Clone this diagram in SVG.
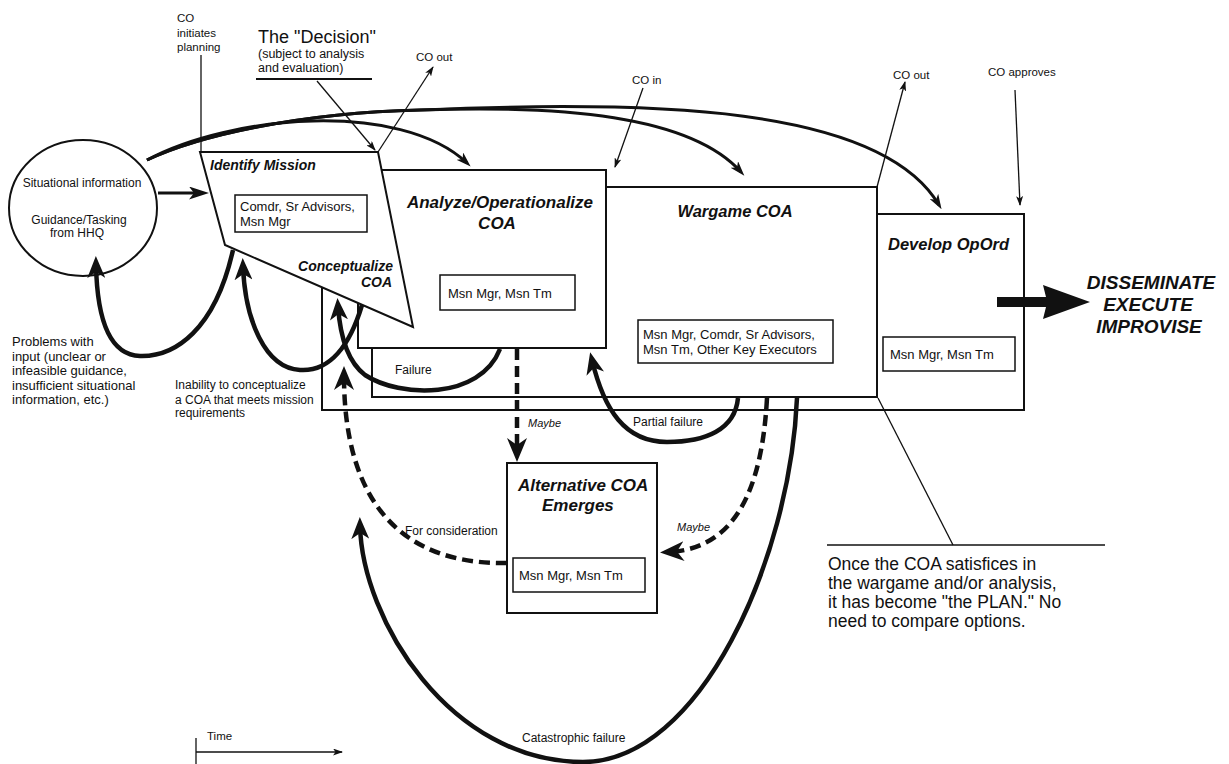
<svg xmlns="http://www.w3.org/2000/svg" width="1229" height="764" viewBox="0 0 1229 764">
<style>
text{font-family:"Liberation Sans",Arial,Helvetica,sans-serif;fill:#111}
.t{font-weight:bold;font-style:italic}
.box{fill:#fff;stroke:#111;stroke-width:2}
.ibox{fill:#fff;stroke:#111;stroke-width:1.5}
.thin{fill:none;stroke:#111;stroke-width:1.3}
.arc{fill:none;stroke:#111;stroke-width:3}
.loop{fill:none;stroke:#111;stroke-width:4.5}
.dash{fill:none;stroke:#111;stroke-width:4.5;stroke-dasharray:11 6}
.lbl{font-size:12px}
.inner{font-size:13px}
</style>
<defs>
<marker id="mBig" viewBox="0 0 22 18" markerWidth="22" markerHeight="18" markerUnits="userSpaceOnUse" refX="14" refY="9" orient="auto"><path d="M0,0 L22,9 L0,18 L6,9 z" fill="#111"/></marker>
<marker id="mDash" viewBox="0 0 24 20" markerWidth="24" markerHeight="20" markerUnits="userSpaceOnUse" refX="14" refY="10" orient="auto"><path d="M0,0 L24,10 L0,20 L7,10 z" fill="#111"/></marker>
<marker id="mMid" viewBox="0 0 15 10" markerWidth="15" markerHeight="10" markerUnits="userSpaceOnUse" refX="10" refY="5" orient="auto"><path d="M0,0 L15,5 L0,10 L4,5 z" fill="#111"/></marker>
<marker id="mIn" viewBox="0 0 20 13" markerWidth="20" markerHeight="13" markerUnits="userSpaceOnUse" refX="12" refY="6.5" orient="auto"><path d="M0,0 L20,6.5 L0,13 L5,6.5 z" fill="#111"/></marker>
<marker id="mSm" viewBox="0 0 10 7" markerWidth="10" markerHeight="7" markerUnits="userSpaceOnUse" refX="9" refY="3.5" orient="auto"><path d="M0,0 L10,3.5 L0,7 L2.5,3.5 z" fill="#111"/></marker>
</defs>
<rect width="1229" height="764" fill="#fff"/>

<!-- Nodes, back to front -->
<g id="develop-opord">
<rect class="box" x="322" y="214" width="702" height="196"/>
<text class="t" x="888" y="250" font-size="16.5">Develop OpOrd</text>
<rect class="ibox" x="883" y="337" width="132" height="34"/>
<text class="inner" x="890" y="359">Msn Mgr, Msn Tm</text>
</g>

<g id="wargame-coa">
<rect class="box" x="372" y="187" width="505" height="210"/>
<text class="t" x="735" y="217" font-size="16.5" text-anchor="middle">Wargame COA</text>
<rect class="ibox" x="638" y="320" width="195" height="43"/>
<text class="inner" x="643" y="339">Msn Mgr, Comdr, Sr Advisors,</text>
<text class="inner" x="643" y="354">Msn Tm, Other Key Executors</text>
</g>

<g id="analyze-coa">
<rect class="box" x="358" y="170" width="248" height="178"/>
<text class="t" x="500" y="208" font-size="17" text-anchor="middle">Analyze/Operationalize</text>
<text class="t" x="497" y="229" font-size="17" text-anchor="middle">COA</text>
<rect class="ibox" x="440" y="275" width="135" height="35"/>
<text class="inner" x="448" y="298">Msn Mgr, Msn Tm</text>
</g>

<g id="identify-mission">
<polygon class="box" points="200,152 378,152 413,327 225,245"/>
<text class="t" x="210" y="170" font-size="14">Identify Mission</text>
<rect class="ibox" x="235" y="195" width="132" height="37"/>
<text class="inner" x="240" y="211">Comdr, Sr Advisors,</text>
<text class="inner" x="240" y="226">Msn Mgr</text>
<text class="t" x="393" y="271" font-size="14" text-anchor="end">Conceptualize</text>
<text class="t" x="392" y="287" font-size="14" text-anchor="end">COA</text>
</g>

<g id="situational-information">
<ellipse cx="83" cy="208" rx="74" ry="68" fill="#fff" stroke="#111" stroke-width="2"/>
<text class="lbl" x="82" y="187" text-anchor="middle">Situational information</text>
<text class="lbl" x="79" y="224" text-anchor="middle">Guidance/Tasking</text>
<text class="lbl" x="77" y="237" text-anchor="middle">from HHQ</text>
</g>

<g id="alternative-coa">
<rect class="box" x="507" y="463" width="150" height="150"/>
<text class="t" x="518" y="491" font-size="17">Alternative COA</text>
<text class="t" x="542" y="511" font-size="17">Emerges</text>
<rect class="ibox" x="513" y="558" width="132" height="34"/>
<text class="inner" x="519" y="580">Msn Mgr, Msn Tm</text>
</g>

<g id="disseminate">
<text class="t" x="1151" y="289" font-size="19" text-anchor="middle">DISSEMINATE</text>
<text class="t" x="1148" y="311" font-size="19" text-anchor="middle">EXECUTE</text>
<text class="t" x="1149" y="333" font-size="19" text-anchor="middle">IMPROVISE</text>
</g>

<!-- Connectors -->
<g id="connectors">
<path class="arc" d="M147,160 C230,115 400,100 467,163" marker-end="url(#mMid)"/>
<path class="arc" d="M147,160 C200,135 300,113 420,110 C560,105 690,115 741,172" marker-end="url(#mMid)"/>
<path class="arc" d="M147,160 C200,135 300,113 420,110 C650,100 880,105 939,205" marker-end="url(#mMid)"/>
<path class="arc" d="M158,193 L201,193" stroke-width="3.5" marker-end="url(#mIn)"/>
<path class="loop" d="M233,250 C215,330 175,357 140,356 C110,355 97,320 96,264" marker-end="url(#mBig)"/>
<path class="loop" d="M362,305 C350,345 330,372 300,370 C265,368 245,320 243,266" marker-end="url(#mBig)"/>
<path class="loop" d="M500,349 C480,400 400,398 365,375 C348,362 340,335 338,306" marker-end="url(#mBig)"/>
<path class="loop" d="M738,398 C735,430 705,442 667,442 C625,442 604,410 592,360" marker-end="url(#mBig)"/>
<path class="loop" d="M797,398 C790,560 700,762 583,762 C450,762 362,620 360,525" marker-end="url(#mBig)"/>
<path class="dash" d="M517,349 L517,452" marker-end="url(#mDash)"/>
<path class="dash" d="M767,398 C762,490 735,548 670,552" marker-end="url(#mDash)"/>
<path class="dash" d="M507,563 C400,565 344,500 344,376" marker-end="url(#mDash)"/>
<polygon points="997,297 1046,297 1043,285 1090,302 1043,319 1046,307 997,307" fill="#111"/>
<path class="thin" d="M201,55 L201,152"/>
<path class="thin" d="M317,81 L375,150" marker-end="url(#mSm)"/>
<path class="thin" d="M378,152 L433,67" marker-end="url(#mSm)"/>
<path class="thin" d="M643,88 L615,167" marker-end="url(#mSm)"/>
<path class="thin" d="M877,187 L905,82" marker-end="url(#mSm)"/>
<path class="thin" d="M1015,90 L1020,205" marker-end="url(#mSm)"/>
<path class="thin" d="M878,398 L953,545"/>
<path class="thin" d="M196,752 L342,752" marker-end="url(#mSm)"/>
<path class="thin" d="M196,738 L196,764"/>
<line x1="256" y1="79" x2="372" y2="79" stroke="#111" stroke-width="2"/>
<line x1="827" y1="545" x2="1105" y2="545" stroke="#111" stroke-width="1.5"/>
</g>

<g id="labels">
<text font-size="11.5" x="177" y="22">CO</text>
<text font-size="11.5" x="177" y="37">initiates</text>
<text font-size="11.5" x="177" y="51">planning</text>
<text font-size="18" x="258" y="43">The "Decision"</text>
<text font-size="12.5" x="258" y="58">(subject to analysis</text>
<text font-size="12.5" x="258" y="72">and evaluation)</text>
<text font-size="11.5" x="416" y="61">CO out</text>
<text font-size="11.5" x="632" y="84">CO in</text>
<text font-size="11.5" x="893" y="79">CO out</text>
<text font-size="11.5" x="988" y="76">CO approves</text>
<text font-size="13" x="12" y="346">Problems with</text>
<text font-size="13" x="12" y="361">input (unclear or</text>
<text font-size="13" x="12" y="375">infeasible guidance,</text>
<text font-size="13" x="12" y="390">insufficient situational</text>
<text font-size="13" x="12" y="404">information, etc.)</text>
<text font-size="12" x="175" y="389">Inability to conceptualize</text>
<text font-size="12" x="175" y="404">a COA that meets mission</text>
<text font-size="12" x="175" y="417">requirements</text>
<text class="lbl" x="395" y="374">Failure</text>
<text class="lbl" x="633" y="426">Partial failure</text>
<text font-size="11" font-style="italic" x="528" y="427">Maybe</text>
<text font-size="11" font-style="italic" x="677" y="531">Maybe</text>
<text class="lbl" x="405" y="535">For consideration</text>
<text class="lbl" x="522" y="742">Catastrophic failure</text>
<text font-size="11.5" x="207" y="740">Time</text>
<text font-size="17.5" x="828" y="570">Once the COA satisfices in</text>
<text font-size="17.5" x="828" y="589">the wargame and/or  analysis,</text>
<text font-size="17.5" x="828" y="608">it has become "the PLAN."  No</text>
<text font-size="17.5" x="828" y="627">need to compare options.</text>
</g>
</svg>
